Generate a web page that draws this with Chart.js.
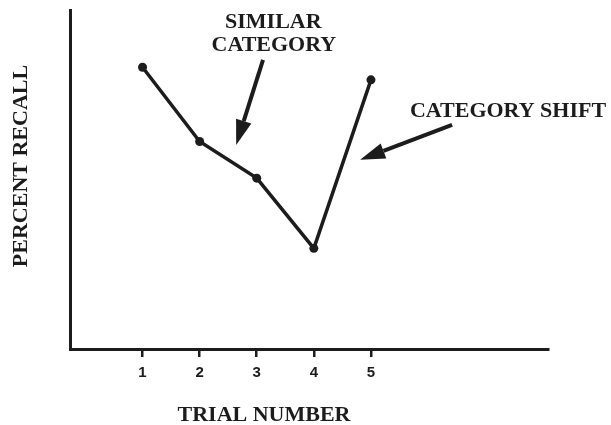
<!DOCTYPE html>
<html>
<head>
<meta charset="utf-8">
<script src="https://cdn.jsdelivr.net/npm/chart.js@4"></script>
<style>
  html, body { margin: 0; padding: 0; background: #fff; }
  #wrap { width: 611px; height: 425px; }
</style>
</head>
<body>
<div id="wrap"><canvas id="myChart" width="611" height="425"></canvas></div>
<script>
// data
const trials = [1, 2, 3, 4, 5];
const recall = [83.1, 61.2, 50.4, 29.7, 79.4];
const xTickLabels = ['1', '2', '3', '4', '5'];

// annotations (data coords)
const arrowTails = [[3.11, 85.3], [6.42, 66.1]];
const arrowTips = [[2.64, 60.2], [4.81, 55.8]];
const noteTexts = ['SIMILAR', 'CATEGORY', 'CATEGORY SHIFT'];
const notePos = [[3.29, 96.3], [3.30, 89.7], [7.40, 70.1]];

const ink = '#1c1c1c';
const serif = 'bold 22px "Liberation Serif", "Times New Roman", serif';

// draws arrows, notes and axis titles
const notesPlugin = {
    id: 'notes',
    afterDraw(chart) {
        const { ctx, scales: { x, y }, chartArea } = chart;
        ctx.save();
        ctx.fillStyle = ink;
        ctx.strokeStyle = ink;

        // arrows
        arrowTails.forEach((tail, i) => {
            const x0 = x.getPixelForValue(tail[0]), y0 = y.getPixelForValue(tail[1]);
            const x1 = x.getPixelForValue(arrowTips[i][0]), y1 = y.getPixelForValue(arrowTips[i][1]);
            const ang = Math.atan2(y1 - y0, x1 - x0);
            const headLen = 25, headHalf = 8;
            const bx = x1 - headLen * Math.cos(ang), by = y1 - headLen * Math.sin(ang);
            ctx.lineWidth = 4;
            ctx.beginPath();
            ctx.moveTo(x0, y0);
            ctx.lineTo(bx, by);
            ctx.stroke();
            ctx.beginPath();
            ctx.moveTo(x1, y1);
            ctx.lineTo(bx + headHalf * Math.sin(ang), by - headHalf * Math.cos(ang));
            ctx.lineTo(bx - headHalf * Math.sin(ang), by + headHalf * Math.cos(ang));
            ctx.closePath();
            ctx.fill();
        });

        // notes
        ctx.font = serif;
        ctx.textAlign = 'center';
        ctx.textBaseline = 'middle';
        noteTexts.forEach((t, i) => {
            ctx.fillText(t, x.getPixelForValue(notePos[i][0]), y.getPixelForValue(notePos[i][1]));
        });

        // axis titles
        ctx.fillText('TRIAL NUMBER', chartArea.left + 194, chartArea.bottom + 66);
        ctx.translate(chartArea.left - 49, chartArea.top + 156);
        ctx.rotate(-Math.PI / 2);
        ctx.fillText('PERCENT RECALL', 0, 0);
        ctx.restore();
    }
};

const ctx = document.getElementById('myChart');
let myChart = new Chart(ctx, {
    type: 'line',
    data: {
        datasets: [{
            data: trials.map((t, i) => ({ x: t, y: recall[i] })),
            borderColor: ink,
            backgroundColor: ink,
            borderWidth: 3.5,
            pointRadius: 4.5,
            pointBackgroundColor: ink,
            pointBorderWidth: 0,
            tension: 0
        }]
    },
    options: {
        responsive: false,
        animation: false,
        layout: { padding: { left: 70, top: 10, right: 63, bottom: 0 } },
        plugins: { legend: { display: false }, tooltip: { enabled: false } },
        scales: {
            x: {
                type: 'linear',
                min: -0.27,
                max: 8.1,
                afterBuildTicks: (scale) => { scale.ticks = trials.map(v => ({ value: v })); },
                afterFit: (scale) => { scale.height = 76; },
                ticks: {
                    color: ink,
                    padding: 7,
                    font: { family: '"Liberation Sans", Arial, sans-serif', size: 15, weight: 'bold' },
                    callback: (v) => xTickLabels[trials.indexOf(v)]
                },
                grid: { drawOnChartArea: false, drawTicks: true, tickLength: 8, lineWidth: 2.5, color: ink },
                border: { display: true, color: ink, width: 3 }
            },
            y: {
                min: 0,
                max: 100,
                afterFit: (scale) => { scale.width = 0; },
                ticks: { display: false },
                grid: { drawOnChartArea: false, drawTicks: false },
                border: { display: true, color: ink, width: 3 }
            }
        }
    },
    plugins: [notesPlugin]
});
</script>
</body>
</html>
